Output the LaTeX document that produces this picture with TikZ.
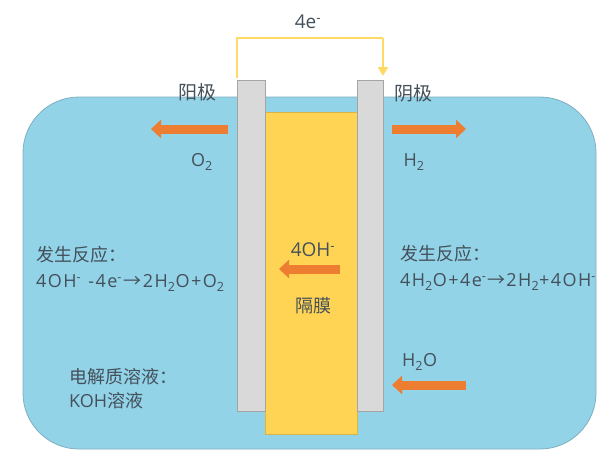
\documentclass[tikz,border=0pt]{standalone}
\usepackage{fontspec}
\setmainfont{Open Sans}
\newfontfamily\cjk{Noto Sans CJK SC}
\usepackage{tikz}
\usetikzlibrary{arrows.meta}
\definecolor{tankblue}{HTML}{92D3E8}
\definecolor{tankedge}{HTML}{7FAFC0}
\definecolor{plategray}{HTML}{D9D9D9}
\definecolor{plateedge}{HTML}{A5A5A5}
\definecolor{membrane}{HTML}{FFD455}
\definecolor{flowcol}{HTML}{ED7D31}
\definecolor{wirecol}{HTML}{FFD966}
\definecolor{textcol}{HTML}{44505A}
\tikzset{
  lab/.style={text=textcol,font=\fontsize{18}{18}\selectfont,inner sep=0pt},
  lableft/.style={lab,anchor=west,align=left},
  labbig/.style={lab,font=\fontsize{19}{19}\selectfont},
  plate/.style={draw=plateedge,fill=plategray,line width=.6pt},
  flow/.style={-{Triangle[length=10pt,width=18pt]},line width=9pt,draw=flowcol},
  wire/.style={line width=2.4pt,draw=wirecol}
}
\newcommand{\sub}[1]{\textsubscript{#1}}
\newcommand{\minus}{\textsuperscript{-}}
\newcommand{\zh}[1]{{\cjk #1}}
\newcommand{\spaced}{\addfontfeature{LetterSpace=8}}
\begin{document}
\begin{tikzpicture}[x=1pt,y=-1pt]
\useasboundingbox (0,0) rectangle (614,464);
\draw[draw=tankedge,fill=tankblue,line width=.8pt,rounded corners=56pt](23,97)rectangle(596,449);
\node[draw=membrane!85!black,fill=membrane,line width=.6pt,minimum width=92pt,minimum height=322pt,inner sep=0pt] (mem) at (311,273) {};
\node[plate,minimum width=28pt,minimum height=331pt,inner sep=0pt] (anode) at (251,245.5) {};
\node[plate,minimum width=26pt,minimum height=331pt,inner sep=0pt] (cathode) at (370,245.5) {};
% external wire
\coordinate (wirestart) at (237,78);
\coordinate (wirea) at (237,38);
\coordinate (wireb) at (383,38);
\coordinate (wireend) at (383,76);
\draw[wire,line join=round](wirestart)--(wirea)--(wireb);
\draw[wire,-{Triangle[length=9pt,width=10pt]}](wireb)--(wireend);
\node[labbig] (etext) at (308,22) {4e\minus};
\node[labbig] (anlabel) at (197,92) {\zh{阳极}};
\node[labbig] (calabel) at (413,93) {\zh{阴极}};
% gas and ion flows
\coordinate (o2a) at (228,129);
\coordinate (o2b) at (151,129);
\coordinate (h2a) at (392,129);
\coordinate (h2b) at (466,129);
\coordinate (oha) at (340,269);
\coordinate (ohb) at (279,269);
\coordinate (wa) at (466,385);
\coordinate (wb) at (392,385);
\draw[flow](o2a)--(o2b);
\draw[flow](h2a)--(h2b);
\draw[flow](oha)--(ohb);
\draw[flow](wa)--(wb);
\node[lab] (o2) at (202,162) {O\sub{2}};
\node[lab] (h2) at (414,162) {H\sub{2}};
\node[labbig] (ohion) at (313,250) {4OH\minus};
\node[lab] (memlabel) at (313,306) {\zh{隔膜}};
\node[lableft] (h2o) at (402,362) {H\sub{2}O};
% reactions
\node[lableft] (antitle) at (36,255) {\zh{发生反应：}};
\node[lableft] (anreact) at (36,283) {\spaced 4OH\minus\hspace{1pt}\ -4e\minus\hspace{2pt}\zh{→}\hspace{1pt}2H\sub{2}O+O\sub{2}};
\node[lableft] (catitle) at (400,254) {\zh{发生反应：}};
\node[lableft] (careact) at (400,282) {\spaced 4H\sub{2}O+4e\minus\hspace{1pt}\zh{→}\hspace{1pt}2H\sub{2}+4OH\minus};
\node[lableft] (eltitle) at (69,377) {\zh{电解质溶液：}};
\node[lableft] (elname) at (69,401) {KOH\zh{溶液}};
\end{tikzpicture}
\end{document}
